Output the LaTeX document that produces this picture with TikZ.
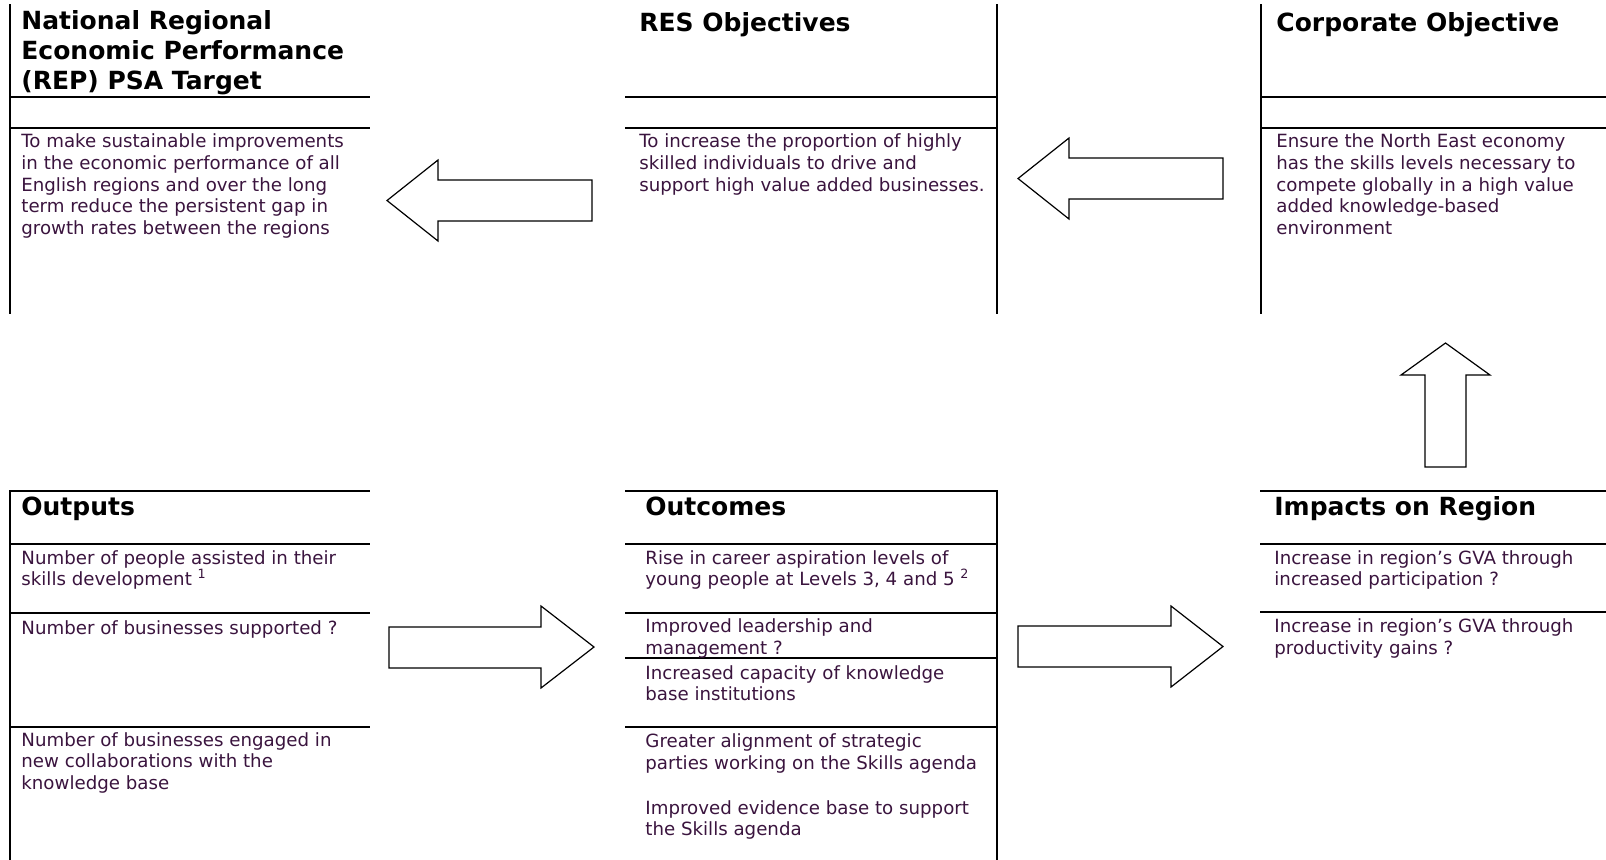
\documentclass[tikz,border=0pt]{standalone}
\usepackage{fontspec}
\setmainfont{DejaVu Sans}
\definecolor{bodytext}{RGB}{58,20,62}
\tikzset{
  boxline/.style={line width=1pt},
  heading/.style={anchor=north west,inner sep=0pt,align=left,
    font=\bfseries\fontsize{12.5}{15}\selectfont,execute at begin node=\strut},
  entry/.style={anchor=north west,inner sep=0pt,align=left,text=bodytext,
    font=\fontsize{9.1}{10.85}\selectfont,execute at begin node=\strut},
  blockarrow/.style={line width=0.6pt,fill=white,line join=miter}
}
\begin{document}
\begin{tikzpicture}[x=0.5pt,y=-0.5pt,line cap=rect]
  \useasboundingbox (0,0) rectangle (1606,859);
  % top row: frames
  \draw[boxline] (10,5) -- (10,313);
  \draw[boxline] (10,96.7) -- (369,96.7);
  \draw[boxline] (10,127.7) -- (369,127.7);
  \draw[boxline] (626,96.7) -- (997,96.7);
  \draw[boxline] (626,127.7) -- (997,127.7);
  \draw[boxline] (997,5) -- (997,313);
  \draw[boxline] (1261,5) -- (1261,313);
  \draw[boxline] (1261,96.7) -- (1606,96.7);
  \draw[boxline] (1261,127.7) -- (1606,127.7);
  % top row: text
  \node[heading] (rep) at (21,10.5) {National Regional\\Economic Performance\\(REP) PSA Target};
  \node[entry] (reptext) at (21,133.5) {To make sustainable improvements\\in the economic performance of all\\English regions and over the long\\term reduce the persistent gap in\\growth rates between the regions};
  \node[heading] (res) at (639,10.5) {RES Objectives};
  \node[entry] (restext) at (639,133.5) {To increase the proportion of highly\\skilled individuals to drive and\\support high value added businesses.};
  \node[heading] (corp) at (1276,10.5) {Corporate Objective};
  \node[entry] (corptext) at (1276,133.5) {Ensure the North East economy\\has the skills levels necessary to\\compete globally in a high value\\added knowledge-based\\environment};
  % bottom row: frames
  \draw[boxline] (369,491) -- (10,491) -- (10,859);
  \draw[boxline] (10,543.5) -- (369,543.5);
  \draw[boxline] (10,612.5) -- (369,612.5);
  \draw[boxline] (10,726.7) -- (369,726.7);
  \draw[boxline] (626,491) -- (997,491) -- (997,859);
  \draw[boxline] (626,544) -- (997,544);
  \draw[boxline] (626,612.7) -- (997,612.7);
  \draw[boxline] (626,658.3) -- (997,658.3);
  \draw[boxline] (626,726.7) -- (997,726.7);
  \draw[boxline] (1261,491) -- (1606,491);
  \draw[boxline] (1261,544) -- (1606,544);
  \draw[boxline] (1261,612) -- (1606,612);
  % bottom row: text
  \node[heading] (outputs) at (21,494.5) {Outputs};
  \node[entry] (out1) at (21,549.8) {Number of people assisted in their\\skills development \textsuperscript{1}};
  \node[entry] (out2) at (21,618.5) {Number of businesses supported ?};
  \node[entry] (out3) at (21,731.8) {Number of businesses engaged in\\new collaborations with the\\knowledge base};
  \node[heading] (outcomes) at (645,494.5) {Outcomes};
  \node[entry] (oc1) at (645,549.8) {Rise in career aspiration levels of\\young people at Levels 3, 4 and 5 \textsuperscript{2}};
  \node[entry] (oc2) at (645,618.5) {Improved leadership and\\management ?};
  \node[entry] (oc3) at (645,664.8) {Increased capacity of knowledge\\base institutions};
  \node[entry] (oc4) at (645,733.3) {Greater alignment of strategic\\parties working on the Skills agenda};
  \node[entry] (oc5) at (645,799.8) {Improved evidence base to support\\the Skills agenda};
  \node[heading] (impacts) at (1274,494.5) {Impacts on Region};
  \node[entry] (imp1) at (1274,549.8) {Increase in region’s GVA through\\increased participation ?};
  \node[entry] (imp2) at (1274,618.5) {Increase in region’s GVA through\\productivity gains ?};
  % block arrows
  \draw[blockarrow] (592,180) -- (438,180) -- (438,160) -- (387,200.5) -- (438,241) -- (438,221) -- (592,221) -- cycle;
  \draw[blockarrow] (1223,158) -- (1069,158) -- (1069,138) -- (1018,178.5) -- (1069,219) -- (1069,199) -- (1223,199) -- cycle;
  \draw[blockarrow] (389,627) -- (541,627) -- (541,606) -- (594,647) -- (541,688) -- (541,668) -- (389,668) -- cycle;
  \draw[blockarrow] (1018,626) -- (1171,626) -- (1171,606) -- (1223,646.5) -- (1171,687) -- (1171,667) -- (1018,667) -- cycle;
  \draw[blockarrow] (1425,467) -- (1425,375) -- (1401,375) -- (1445.5,343) -- (1490,375) -- (1466,375) -- (1466,467) -- cycle;
\end{tikzpicture}
\end{document}
